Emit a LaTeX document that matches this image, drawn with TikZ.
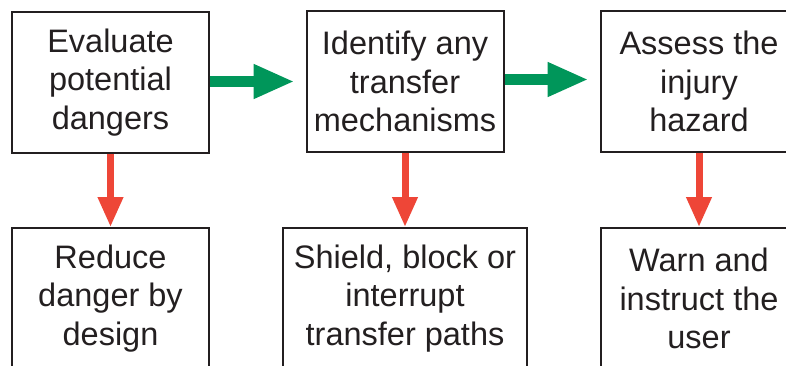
\documentclass[tikz,border=0pt]{standalone}
\usepackage{fontspec}
\setmainfont{Liberation Sans}
\usetikzlibrary{arrows.meta}
\definecolor{boxline}{HTML}{231F20}
\definecolor{flowgreen}{HTML}{00965A}
\definecolor{flowred}{HTML}{EE4637}
\tikzset{
  stepbox/.style={draw=boxline, line width=2pt, text=boxline, minimum width=197pt,
    minimum height=141pt, align=center, inner sep=0pt,
    font=\fontsize{32.5}{38.5}\selectfont},
  widebox/.style={stepbox, minimum width=244pt},
  greenarrow/.style={draw=flowgreen, line width=11pt,
    -{Triangle[length=41pt,width=32pt]}, shorten >=11pt},
  redarrow/.style={draw=flowred, line width=7pt,
    -{Triangle[length=30pt,width=24pt]}}
}
\begin{document}
\begin{tikzpicture}[x=1pt,y=-1pt]
\useasboundingbox (0,0) rectangle (786,365);
\clip (0,0) rectangle (786,365);
\node[stepbox] (A) at (110.5,82.5) {Evaluate\\potential\\dangers};
\node[stepbox] (B) at (405,81.5) {Identify any\\transfer\\mechanisms};
\node[stepbox] (C) at (699,81.5) {Assess the\\injury\\hazard};
\node[stepbox] (D) at (110.5,298.5) {Reduce\\danger by\\design};
\node[widebox] (E) at (405,298.5) {Shield, block or\\interrupt\\transfer paths};
\node[stepbox] (F) at (699,298.5) {Warn and\\instruct the\\user};
\draw[greenarrow] ([yshift=1pt]A.east) -- ([yshift=1pt]A.east -| B.west);
\draw[greenarrow] ([yshift=2pt]B.east) -- ([yshift=2pt]B.east -| C.west);
\draw[redarrow] (A.south) -- (D.north);
\draw[redarrow] (B.south) -- (E.north);
\draw[redarrow] (C.south) -- (F.north);
\end{tikzpicture}
\end{document}
